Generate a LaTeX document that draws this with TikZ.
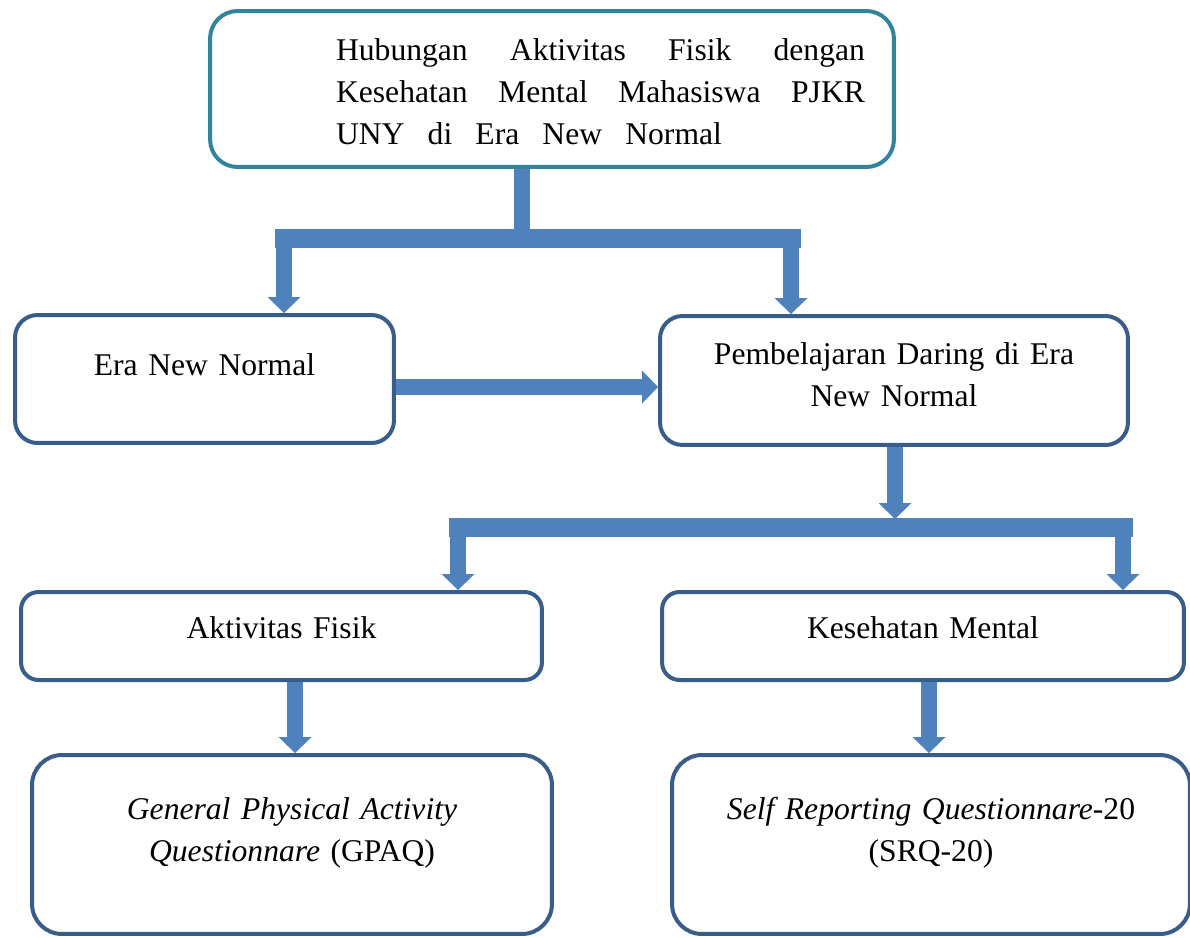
\documentclass[tikz,border=0pt]{standalone}
\usepackage{fontspec}
\setmainfont{Liberation Serif}
\usetikzlibrary{arrows.meta}
\definecolor{garisbiru}{HTML}{385D8A}
\definecolor{garistosca}{HTML}{31849B}
\definecolor{panahbiru}{HTML}{4F81BD}

\begin{document}
\begin{tikzpicture}[x=0.02cm, y=-0.02cm,
  kotak/.style={draw=garisbiru, line width=0.08cm, inner sep=0pt, align=center,
    font=\fontsize{18}{24}\selectfont},
  panah/.style={draw=panahbiru, line width=0.32cm,
    -{Triangle[width=0.66cm, length=0.32cm, line width=0pt]}},
  batang/.style={draw=panahbiru, line width=0.38cm, line cap=rect},
  tiang/.style={draw=panahbiru, line width=0.32cm}]
\useasboundingbox (0,0) rectangle (1190,937);

\node[kotak, draw=garistosca, rounded corners=0.55cm, text width=13.68cm, align=left,
  text height=0.98cm, text depth=2.14cm] (judul) at (552,89)
  {\hspace*{2.52cm}\makebox[10.58cm][s]{Hubungan\hfill Aktivitas\hfill Fisik\hfill dengan}\\
   \hspace*{2.52cm}\makebox[10.58cm][s]{Kesehatan\hfill Mental\hfill Mahasiswa\hfill PJKR}\\
   \hspace*{2.52cm}\makebox[7.72cm][s]{UNY\hfill di\hfill Era\hfill New\hfill Normal}};

\node[kotak, rounded corners=0.45cm, text width=7.58cm, text height=1.2cm,
  text depth=1.36cm] (era) at (204.5,379) {Era New Normal};
\node[kotak, rounded corners=0.45cm, text width=9.36cm, text height=0.96cm,
  text depth=1.62cm] (daring) at (894,380.5) {Pembelajaran Daring di Era\\ New Normal};

\node[kotak, rounded corners=0.35cm, text width=10.42cm, text height=0.92cm,
  text depth=0.84cm] (fisik) at (281.5,636) {Aktivitas Fisik};
\node[kotak, rounded corners=0.35cm, text width=10.44cm, text height=0.92cm,
  text depth=0.84cm] (mental) at (923,636) {Kesehatan Mental};

\node[kotak, rounded corners=0.6cm, text width=10.4cm, text height=1.28cm,
  text depth=2.3cm] (gpaq) at (292,844.5)
  {\textit{General Physical Activity}\\ \textit{Questionnare} (GPAQ)};
\node[kotak, rounded corners=0.6cm, text width=10.36cm, text height=1.28cm,
  text depth=2.3cm] (srq) at (931,844.5)
  {\textit{Self Reporting Questionnare}-20\\ (SRQ-20)};

\coordinate (cabangatas) at (522,238);
\coordinate (kiriatas) at (284,238);
\coordinate (kananatas) at (791,238);
\draw[tiang] (judul.south -| cabangatas) -- (cabangatas);
\draw[batang] (kiriatas) -- (kananatas);
\draw[panah] (kiriatas) -- (kiriatas |- era.north);
\draw[panah] (kananatas) -- (kananatas |- daring.north);

\coordinate (tengah) at (396,387);
\draw[panah] (era.east |- tengah) -- (daring.west |- tengah);

\coordinate (cabangbawah) at (895,527);
\coordinate (kiribawah) at (458,527);
\coordinate (kananbawah) at (1123,527);
\draw[panah] (daring.south -| cabangbawah) -- ([yshift=0.16cm]cabangbawah);
\draw[batang] (kiribawah) -- (kananbawah);
\draw[panah] (kiribawah) -- (kiribawah |- fisik.north);
\draw[panah] (kananbawah) -- (kananbawah |- mental.north);

\coordinate (turunkiri) at (295,700);
\coordinate (turunkanan) at (929,700);
\draw[panah] (fisik.south -| turunkiri) -- (gpaq.north -| turunkiri);
\draw[panah] (mental.south -| turunkanan) -- (srq.north -| turunkanan);
\end{tikzpicture}
\end{document}
